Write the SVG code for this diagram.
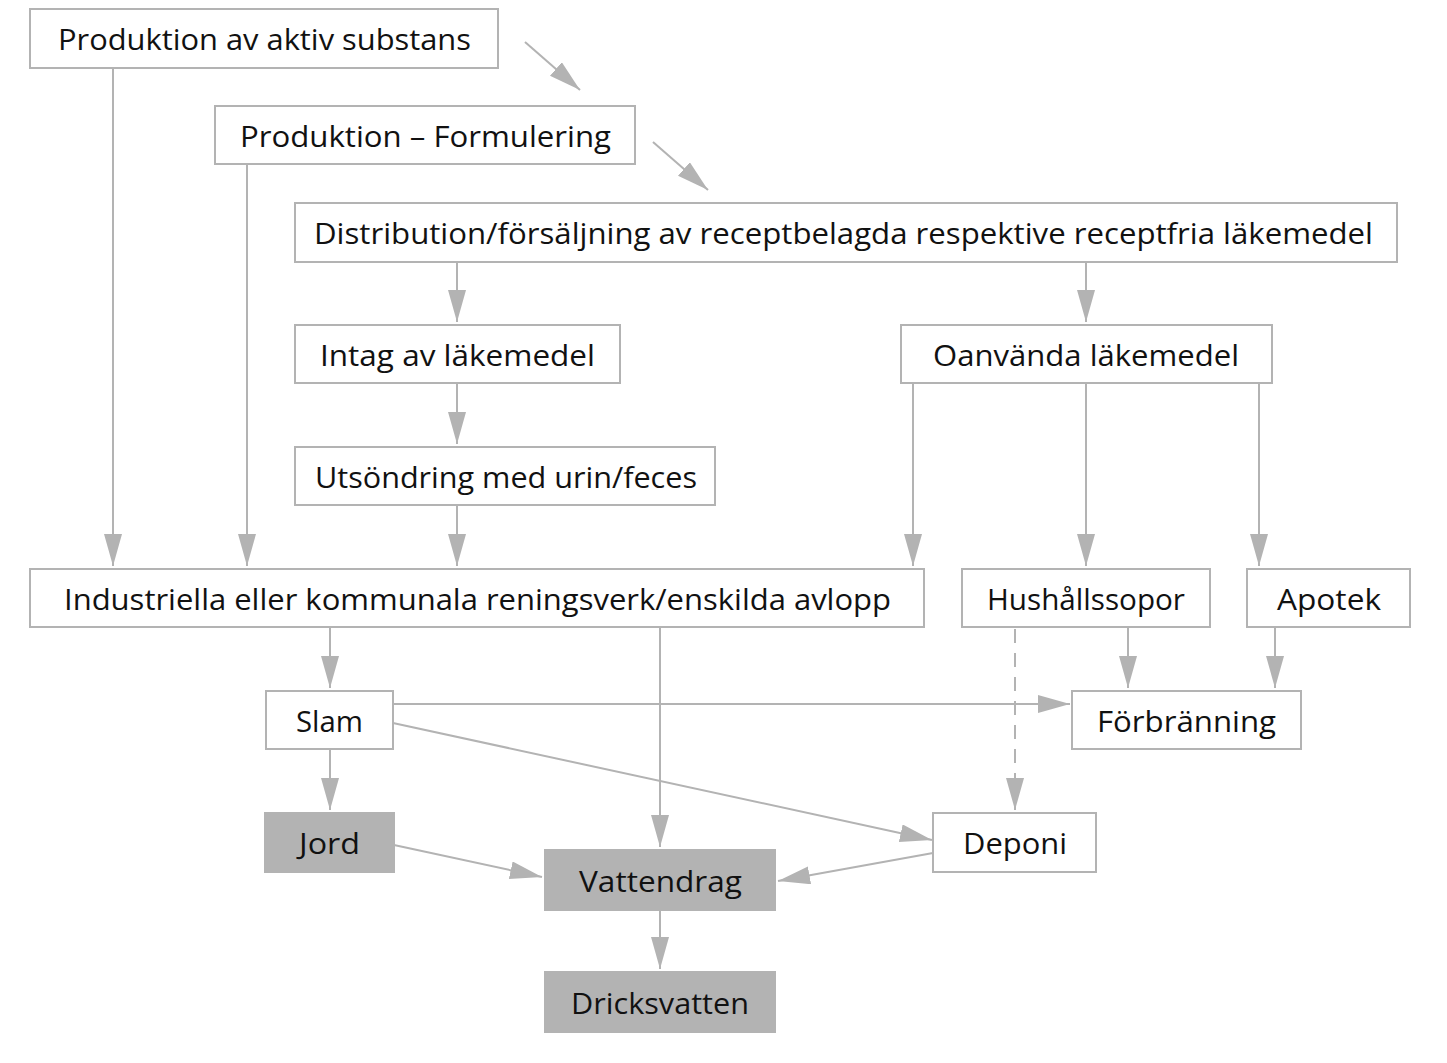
<svg xmlns="http://www.w3.org/2000/svg" width="1447" height="1063" viewBox="0 0 1447 1063">
<style>
.box{fill:#fff;stroke:#b3b3b3;stroke-width:2}
.dark{fill:#b3b3b3;stroke:#b3b3b3;stroke-width:2}
.t{font-family:"Open Sans","Noto Sans",sans-serif;font-size:30px;fill:#111;text-anchor:middle}
.c{stroke:#b3b3b3;stroke-width:2;fill:none;marker-end:url(#ah)}
.d{stroke-dasharray:14,10}
</style>
<defs>
<marker id="ah" markerUnits="userSpaceOnUse" markerWidth="34" markerHeight="20" refX="32" refY="9" orient="auto" viewBox="0 0 34 20">
<path d="M0,0 L32,9 L0,18 z" fill="#b3b3b3"/>
</marker>
</defs>
<rect width="1447" height="1063" fill="#fff"/>
<g id="connectors">
<line class="c" x1="525" y1="42" x2="580" y2="90"/>
<line class="c" x1="653" y1="142" x2="708" y2="190"/>
<line class="c" x1="113" y1="68" x2="113" y2="566"/>
<line class="c" x1="247" y1="164" x2="247" y2="566"/>
<line class="c" x1="457" y1="262" x2="457" y2="322"/>
<line class="c" x1="1086" y1="262" x2="1086" y2="322"/>
<line class="c" x1="457" y1="383" x2="457" y2="444"/>
<line class="c" x1="457" y1="505" x2="457" y2="566"/>
<line class="c" x1="913" y1="383" x2="913" y2="566"/>
<line class="c" x1="1086" y1="383" x2="1086" y2="566"/>
<line class="c" x1="1259" y1="383" x2="1259" y2="566"/>
<line class="c" x1="330" y1="627" x2="330" y2="688"/>
<line class="c" x1="660" y1="627" x2="660" y2="847"/>
<line class="c" x1="1128" y1="627" x2="1128" y2="688"/>
<line class="c" x1="1275" y1="627" x2="1275" y2="688"/>
<line class="c d" x1="1015" y1="629" x2="1015" y2="810"/>
<line class="c" x1="393" y1="704" x2="1070" y2="704"/>
<line class="c" x1="393" y1="723" x2="932" y2="840"/>
<line class="c" x1="330" y1="749" x2="330" y2="810"/>
<line class="c" x1="394" y1="845" x2="542" y2="877"/>
<line class="c" x1="933" y1="853" x2="778" y2="881"/>
<line class="c" x1="660" y1="910" x2="660" y2="969"/>
</g>
<g id="n1"><rect class="box" x="30" y="9" width="468" height="59"/><text class="t" x="264.5" y="50" textLength="413" lengthAdjust="spacingAndGlyphs">Produktion av aktiv substans</text></g>
<g id="n2"><rect class="box" x="215" y="106" width="420" height="58"/><text class="t" x="425.5" y="147" textLength="371" lengthAdjust="spacingAndGlyphs">Produktion – Formulering</text></g>
<g id="n3"><rect class="box" x="295" y="203" width="1102" height="59"/><text class="t" x="843.5" y="244" textLength="1059" lengthAdjust="spacingAndGlyphs">Distribution/försäljning av receptbelagda respektive receptfria läkemedel</text></g>
<g id="n4"><rect class="box" x="295" y="325" width="325" height="58"/><text class="t" x="457.5" y="366" textLength="275" lengthAdjust="spacingAndGlyphs">Intag av läkemedel</text></g>
<g id="n5"><rect class="box" x="901" y="325" width="371" height="58"/><text class="t" x="1086" y="366" textLength="306" lengthAdjust="spacingAndGlyphs">Oanvända läkemedel</text></g>
<g id="n6"><rect class="box" x="295" y="447" width="420" height="58"/><text class="t" x="506" y="488" textLength="382" lengthAdjust="spacingAndGlyphs">Utsöndring med urin/feces</text></g>
<g id="n7"><rect class="box" x="30" y="569" width="894" height="58"/><text class="t" x="477.5" y="610" textLength="827" lengthAdjust="spacingAndGlyphs">Industriella eller kommunala reningsverk/enskilda avlopp</text></g>
<g id="n8"><rect class="box" x="962" y="569" width="248" height="58"/><text class="t" x="1086" y="610" textLength="198" lengthAdjust="spacingAndGlyphs">Hushållssopor</text></g>
<g id="n9"><rect class="box" x="1247" y="569" width="163" height="58"/><text class="t" x="1329" y="610" textLength="104" lengthAdjust="spacingAndGlyphs">Apotek</text></g>
<g id="n10"><rect class="box" x="266" y="691" width="127" height="58"/><text class="t" x="329.5" y="732" textLength="67" lengthAdjust="spacingAndGlyphs">Slam</text></g>
<g id="n11"><rect class="box" x="1072" y="691" width="229" height="58"/><text class="t" x="1186.5" y="732" textLength="179" lengthAdjust="spacingAndGlyphs">Förbränning</text></g>
<g id="n12"><rect class="dark" x="265" y="813" width="129" height="59"/><text class="t" x="329.5" y="854" textLength="61" lengthAdjust="spacingAndGlyphs">Jord</text></g>
<g id="n13"><rect class="box" x="933" y="813" width="163" height="59"/><text class="t" x="1015" y="854" textLength="104" lengthAdjust="spacingAndGlyphs">Deponi</text></g>
<g id="n14"><rect class="dark" x="545" y="850" width="230" height="60"/><text class="t" x="660.5" y="892" textLength="163" lengthAdjust="spacingAndGlyphs">Vattendrag</text></g>
<g id="n15"><rect class="dark" x="545" y="972" width="230" height="60"/><text class="t" x="660" y="1014" textLength="178" lengthAdjust="spacingAndGlyphs">Dricksvatten</text></g>
</svg>
